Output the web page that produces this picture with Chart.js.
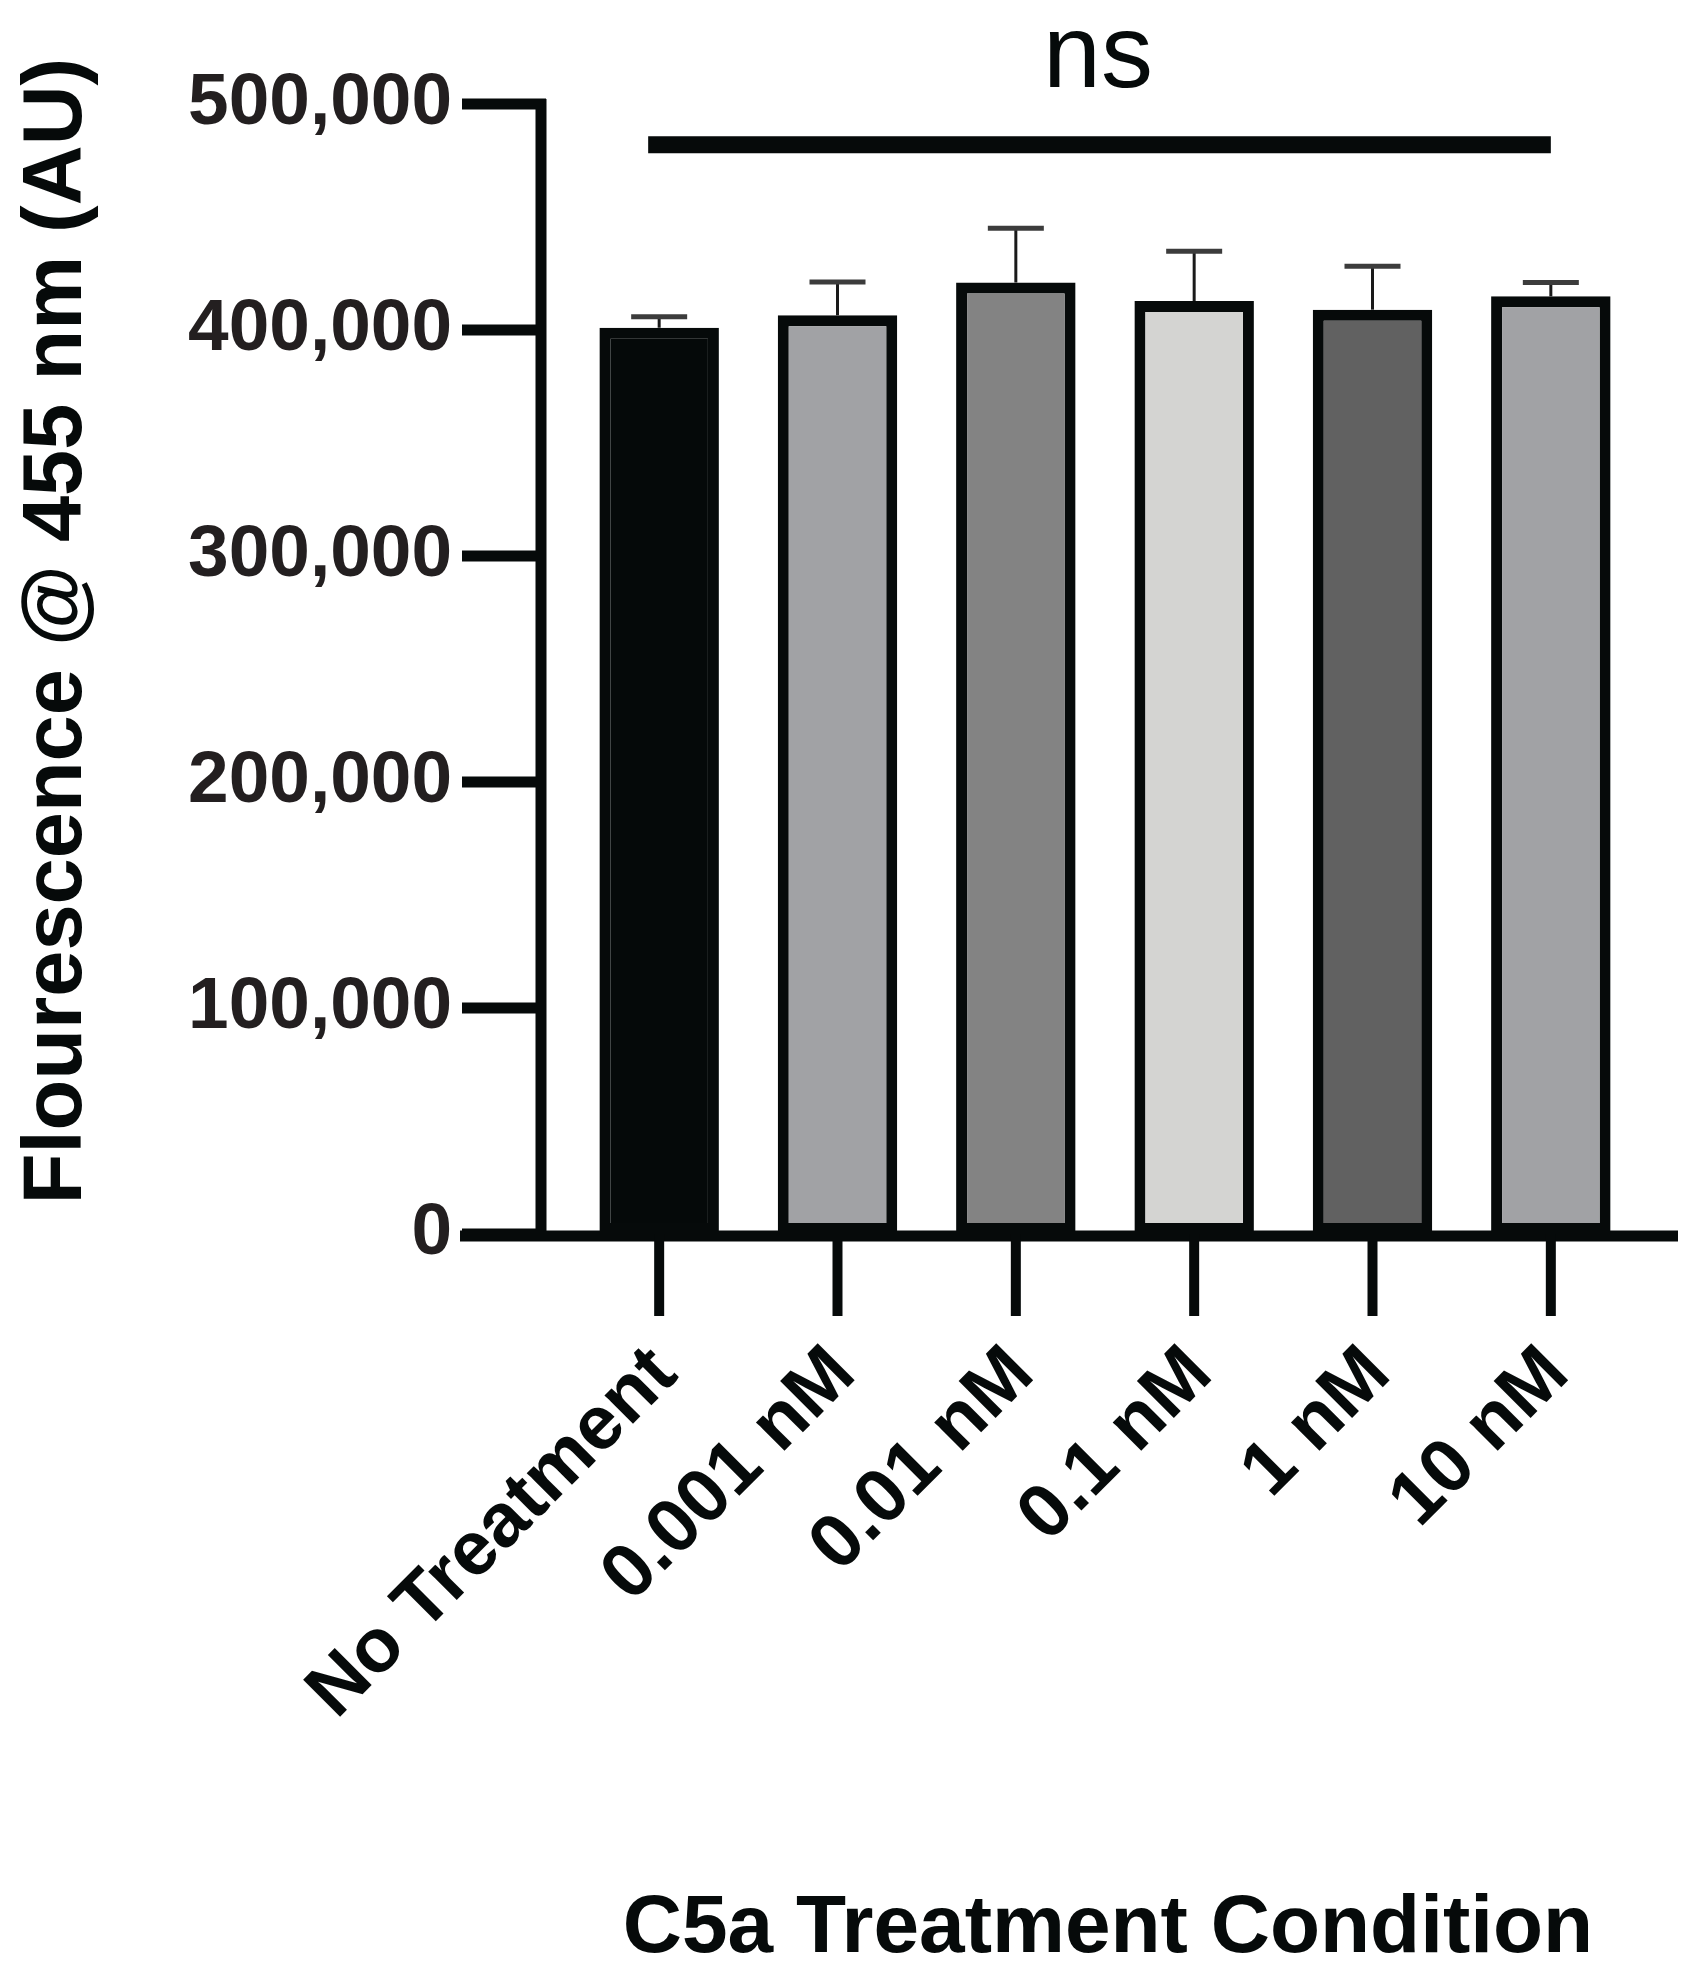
<!DOCTYPE html>
<html>
<head>
<meta charset="utf-8">
<script src="https://cdn.jsdelivr.net/npm/chart.js@4.4.0/dist/chart.umd.min.js"></script>
<style>
  html, body { margin: 0; padding: 0; background: #fff; }
  #wrap { width: 1706px; height: 1983px; }
</style>
</head>
<body>
<div id="wrap"><canvas id="chart" width="1706" height="1983"></canvas></div>
<script>
// data
const categories = ['No Treatment', '0.001 nM', '0.01 nM', '0.1 nM', '1 nM', '10 nM'];
const meanValues = [401000, 406500, 421000, 412800, 409000, 414900];
const errorValues = [4900, 14700, 24000, 22000, 19200, 6100];
const yTickValues = [0, 100000, 200000, 300000, 400000, 500000];
const nsLineValue = 482000;
const nsLabel = 'ns';
const yTitle = 'Flourescence @ 455 nm (AU)';
const xTitle = 'C5a Treatment Condition';

const barColors = ['#050909', '#a1a2a5', '#838383', '#d4d4d2', '#616161', '#a1a2a5'];
const ink = '#060a0a';
const labelInk = '#231f20';
const fontFamily = '"Liberation Sans", Arial, Helvetica, sans-serif';

// error bars, axes and labels drawn Prism-style
const prismPlugin = {
    id: 'prismPlugin',
    afterDatasetsDraw(chart) {
        const ctx = chart.ctx;
        const xs = chart.scales.x;
        const ys = chart.scales.y;
        ctx.save();
        meanValues.forEach((m, i) => {
            const x = xs.getPixelForValue(i);
            const yTop = ys.getPixelForValue(m);
            const yCap = ys.getPixelForValue(m + errorValues[i]);
            ctx.strokeStyle = '#1a1a1a';
            ctx.lineWidth = 3;
            ctx.beginPath();
            ctx.moveTo(x, yTop);
            ctx.lineTo(x, yCap);
            ctx.stroke();
            ctx.strokeStyle = '#3c3c3c';
            ctx.lineWidth = 5;
            ctx.beginPath();
            ctx.moveTo(x - 28, yCap);
            ctx.lineTo(x + 28, yCap);
            ctx.stroke();
        });
        ctx.restore();
    },
    afterDraw(chart) {
        const ctx = chart.ctx;
        const xs = chart.scales.x;
        const ys = chart.scales.y;
        const area = chart.chartArea;
        const axisX = area.left - 29;
        const y0 = ys.getPixelForValue(0);
        const yMax = ys.getPixelForValue(yTickValues[yTickValues.length - 1]);
        ctx.save();
        ctx.strokeStyle = ink;
        ctx.lineWidth = 11;
        ctx.lineCap = 'butt';

        // y axis + ticks
        ctx.beginPath();
        ctx.moveTo(axisX, yMax - 5);
        ctx.lineTo(axisX, y0 + 7);
        ctx.stroke();
        yTickValues.forEach(v => {
            const y = ys.getPixelForValue(v);
            ctx.beginPath();
            ctx.moveTo(axisX - 79, y);
            ctx.lineTo(axisX + 5, y);
            ctx.stroke();
        });

        // x axis + ticks
        ctx.beginPath();
        ctx.moveTo(axisX - 81, y0 + 2);
        ctx.lineTo(area.right + 38, y0 + 2);
        ctx.stroke();
        ctx.lineWidth = 10;
        categories.forEach((c, i) => {
            const x = xs.getPixelForValue(i);
            ctx.beginPath();
            ctx.moveTo(x, y0);
            ctx.lineTo(x, y0 + 82);
            ctx.stroke();
        });

        // rotated category labels
        ctx.fillStyle = ink;
        ctx.font = 'bold 76px ' + fontFamily;
        ctx.textAlign = 'right';
        ctx.textBaseline = 'middle';
        categories.forEach((c, i) => {
            const x = xs.getPixelForValue(i);
            ctx.save();
            ctx.translate(x + 6, y0 + 128);
            ctx.rotate(-Math.PI / 4);
            ctx.fillText(c, 0, 0);
            ctx.restore();
        });

        // significance bar
        const yNs = ys.getPixelForValue(nsLineValue);
        const xFirst = xs.getPixelForValue(0);
        const xLast = xs.getPixelForValue(categories.length - 1);
        ctx.lineWidth = 17;
        ctx.beginPath();
        ctx.moveTo(xFirst - 11, yNs);
        ctx.lineTo(xLast, yNs);
        ctx.stroke();
        ctx.font = '104px ' + fontFamily;
        ctx.textAlign = 'center';
        ctx.textBaseline = 'alphabetic';
        ctx.fillText(nsLabel, (xFirst + xLast) / 2 - 7, 87);

        // axis titles
        ctx.font = 'bold 82px ' + fontFamily;
        ctx.fillText(xTitle, (area.left + area.right) / 2 + 3, 1952);
        ctx.save();
        ctx.translate(58, 631);
        ctx.rotate(-Math.PI / 2);
        ctx.font = 'bold 83px ' + fontFamily;
        ctx.textBaseline = 'middle';
        ctx.fillText(yTitle, 0, 0);
        ctx.restore();

        ctx.restore();
    }
};

const ctx = document.getElementById('chart').getContext('2d');
new Chart(ctx, {
    type: 'bar',
    data: {
        labels: categories,
        datasets: [{
            data: meanValues,
            backgroundColor: barColors,
            borderColor: ink,
            borderWidth: 11,
            borderSkipped: false,
            barPercentage: 0.67,
            categoryPercentage: 1
        }]
    },
    options: {
        responsive: false,
        animation: false,
        devicePixelRatio: 1,
        layout: { padding: { top: 104, right: 66, left: 0, bottom: 0 } },
        plugins: {
            legend: { display: false },
            tooltip: { enabled: false }
        },
        scales: {
            x: {
                grid: { display: false, drawTicks: false },
                border: { display: false },
                ticks: { display: false },
                afterFit(scale) { scale.height = 749; }
            },
            y: {
                min: 0,
                max: 500000,
                grid: { display: false, drawTicks: false },
                border: { display: false },
                ticks: {
                    stepSize: 100000,
                    padding: 118,
                    color: labelInk,
                    font: { family: fontFamily, weight: 'bold', size: 73 },
                    callback: v => v.toLocaleString('en-US')
                },
                afterFit(scale) {
                    scale.width = 570;
                    // the big label padding should not push the plot down
                    scale.paddingTop = 0;
                    scale.paddingBottom = 0;
                }
            }
        }
    },
    plugins: [prismPlugin]
});
</script>
</body>
</html>
